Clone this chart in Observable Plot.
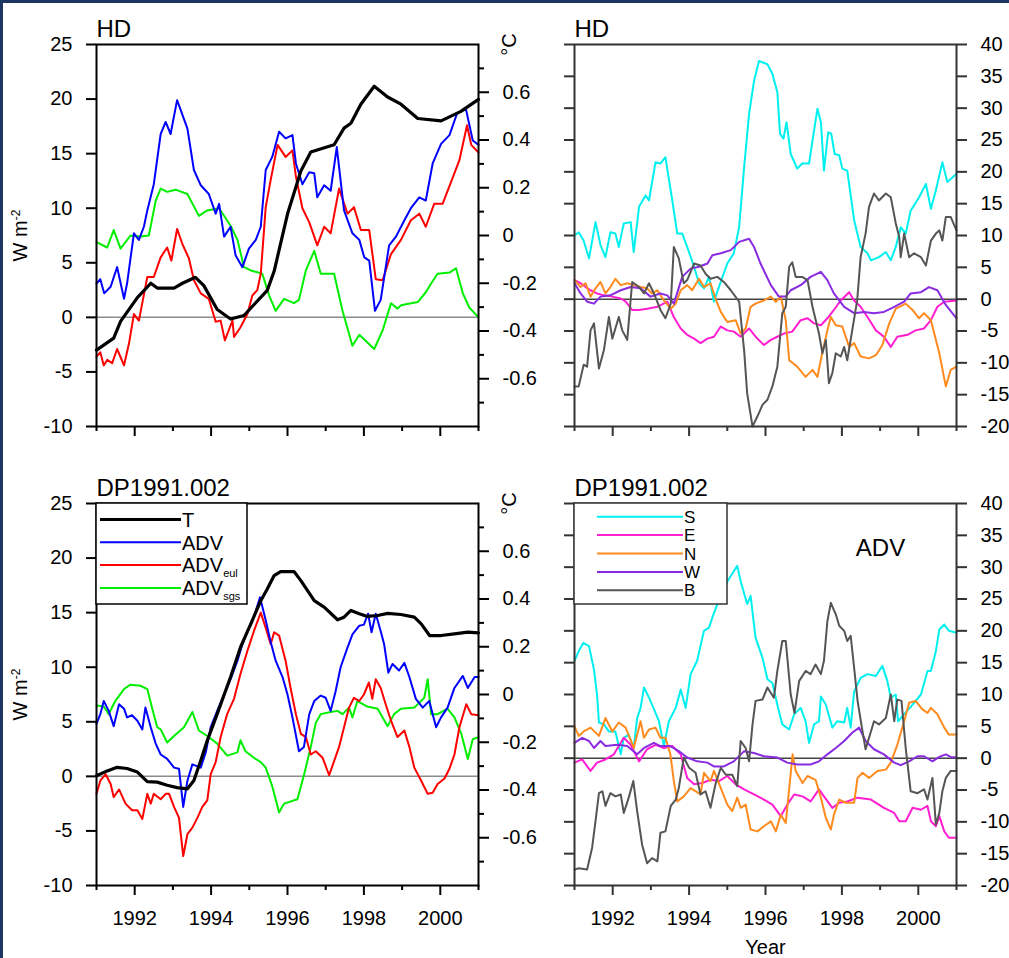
<!DOCTYPE html>
<html><head><meta charset="utf-8">
<script src="https://cdn.jsdelivr.net/npm/d3@7"></script>
<script src="https://cdn.jsdelivr.net/npm/@observablehq/plot@0.6"></script>
<style>
html,body{margin:0;padding:0;background:#1c3664;}
#page{position:relative;width:1009px;height:958px;overflow:hidden;}
#white{position:absolute;left:3px;top:3px;right:0;bottom:0;background:#fff;}
.panel{position:absolute;}
.panel svg{overflow:visible;}
</style></head><body>
<div id="page"><div id="white"></div></div>
<script>
// ---------- tick values ----------
const yearTicks = [1992, 1994, 1996, 1998, 2000];
const yearMinor = [1991, 1993, 1995, 1997, 1999, 2001];
const wTicks = [-10, -5, 0, 5, 10, 15, 20, 25];
const cTicks = [-0.6, -0.4, -0.2, 0, 0.2, 0.4, 0.6];
const cMinor = [-0.7, -0.5, -0.3, -0.1, 0.1, 0.3, 0.5, 0.7];
const rTicks = [-20, -15, -10, -5, 0, 5, 10, 15, 20, 25, 30, 35, 40];
const titles = ["HD", "DP1991.002"];

// ---------- HD : heat budget (W m-2) and T (°C) ----------
const hdT = [[1991.0,-0.48],[1991.45,-0.43],[1991.63,-0.36],[1992.07,-0.26],[1992.42,-0.2],[1992.59,-0.22],[1993.03,-0.22],[1993.25,-0.2],[1993.59,-0.175],[1993.81,-0.21],[1994.16,-0.31],[1994.51,-0.35],[1994.86,-0.335],[1995.12,-0.29],[1995.47,-0.23],[1995.65,-0.15],[1996.0,0.09],[1996.35,0.27],[1996.61,0.35],[1997.22,0.38],[1997.48,0.45],[1997.66,0.47],[1997.92,0.55],[1998.27,0.625],[1998.62,0.58],[1998.97,0.55],[1999.41,0.49],[2000.02,0.48],[2000.28,0.5],[2000.54,0.52],[2001.0,0.57]];
const hdADV = [[1991.0,3.1],[1991.1,3.5],[1991.2,2.2],[1991.37,2.8],[1991.54,4.6],[1991.72,1.7],[1991.8,3.1],[1991.98,7.7],[1992.11,7.1],[1992.24,8.3],[1992.33,9.8],[1992.5,12.2],[1992.68,16.8],[1992.81,17.9],[1992.94,16.8],[1993.11,19.9],[1993.38,17.3],[1993.55,13.5],[1993.73,12.1],[1993.94,11.3],[1994.12,9.5],[1994.21,10.4],[1994.34,7.4],[1994.51,8.3],[1994.64,5.7],[1994.82,4.6],[1994.99,6.3],[1995.17,7.1],[1995.3,8.3],[1995.43,13.5],[1995.6,14.7],[1995.78,17.0],[1995.95,16.4],[1996.13,16.7],[1996.22,14.1],[1996.39,12.2],[1996.57,13.3],[1996.7,13.2],[1996.78,11.0],[1996.96,12.1],[1997.13,11.6],[1997.29,15.6],[1997.48,9.8],[1997.7,7.7],[1997.88,7.1],[1998.01,5.5],[1998.14,5.2],[1998.29,0.6],[1998.44,1.6],[1998.66,6.6],[1998.84,7.4],[1999.06,8.9],[1999.23,10.0],[1999.45,11.0],[1999.62,10.7],[1999.8,14.1],[2000.02,15.9],[2000.24,16.7],[2000.44,18.7],[2000.67,19.1],[2000.85,16.2],[2001.0,15.8]];
const hdEUL = [[1991.0,-3.6],[1991.1,-3.2],[1991.19,-4.4],[1991.28,-3.9],[1991.41,-4.2],[1991.54,-2.9],[1991.72,-4.4],[1991.85,-2.4],[1991.98,0.3],[1992.11,-0.3],[1992.33,3.7],[1992.5,3.7],[1992.68,5.5],[1992.85,6.4],[1992.96,5.2],[1993.11,8.1],[1993.25,6.7],[1993.42,5.4],[1993.55,3.4],[1993.73,2.2],[1993.94,1.7],[1994.12,-0.4],[1994.25,-0.3],[1994.36,-2.1],[1994.56,-0.3],[1994.6,-1.8],[1994.77,-0.9],[1994.95,0.3],[1995.08,2.0],[1995.21,2.5],[1995.3,4.0],[1995.43,10.1],[1995.56,12.6],[1995.74,15.8],[1995.95,14.7],[1996.13,15.3],[1996.22,12.9],[1996.39,10.0],[1996.57,8.7],[1996.78,6.6],[1996.96,8.3],[1997.13,7.7],[1997.35,11.8],[1997.57,9.5],[1997.74,10.1],[1997.92,8.0],[1998.14,8.0],[1998.31,3.5],[1998.49,3.4],[1998.71,5.8],[1998.97,7.1],[1999.23,8.9],[1999.45,9.5],[1999.62,8.3],[1999.84,10.4],[2000.06,10.4],[2000.28,12.4],[2000.5,14.4],[2000.7,17.6],[2000.81,15.8],[2001.0,15.1]];
const hdSGS = [[1991.0,6.9],[1991.28,6.4],[1991.45,8.0],[1991.63,6.3],[1991.89,7.5],[1992.15,7.4],[1992.37,7.5],[1992.55,10.7],[1992.68,11.8],[1992.85,11.5],[1993.07,11.7],[1993.38,11.3],[1993.68,9.3],[1993.9,9.8],[1994.21,10.0],[1994.51,8.4],[1994.69,7.1],[1994.86,4.6],[1995.04,4.3],[1995.34,4.0],[1995.52,2.0],[1995.69,0.6],[1995.91,1.7],[1996.17,1.3],[1996.3,1.6],[1996.48,4.3],[1996.7,6.1],[1996.87,4.0],[1997.22,4.0],[1997.44,0.6],[1997.7,-2.6],[1997.88,-1.6],[1998.27,-2.9],[1998.49,-1.2],[1998.71,1.3],[1998.88,0.8],[1998.97,1.1],[1999.41,1.4],[1999.62,2.3],[1999.76,3.1],[1999.93,4.0],[2000.24,4.1],[2000.41,4.5],[2000.59,2.2],[2000.76,0.9],[2001.0,0.0]];
// ---------- HD : ADV components ----------
const hdS = [[1991.0,10.0],[1991.11,10.5],[1991.24,9.2],[1991.38,6.4],[1991.55,12.1],[1991.68,8.5],[1991.81,6.6],[1991.94,10.5],[1992.07,10.3],[1992.16,8.2],[1992.29,11.9],[1992.47,12.1],[1992.55,7.4],[1992.69,14.5],[1992.86,16.3],[1992.95,15.5],[1993.12,21.5],[1993.25,21.3],[1993.38,22.3],[1993.56,15.5],[1993.69,10.3],[1993.82,10.3],[1993.95,8.2],[1994.13,5.1],[1994.26,2.5],[1994.39,1.7],[1994.52,3.5],[1994.65,-0.4],[1994.78,1.9],[1995.0,5.6],[1995.17,7.2],[1995.31,11.3],[1995.44,20.7],[1995.57,29.1],[1995.7,34.3],[1995.83,37.4],[1996.05,36.9],[1996.18,35.4],[1996.31,32.5],[1996.38,26.0],[1996.47,25.2],[1996.55,27.8],[1996.66,22.8],[1996.83,20.5],[1996.96,21.3],[1997.14,21.3],[1997.23,24.9],[1997.36,29.9],[1997.45,27.8],[1997.53,20.2],[1997.64,26.2],[1997.72,26.0],[1997.81,22.8],[1997.93,22.6],[1998.01,20.5],[1998.14,20.2],[1998.32,12.4],[1998.49,8.2],[1998.67,7.2],[1998.76,6.1],[1998.97,6.6],[1999.15,7.4],[1999.28,6.1],[1999.41,8.2],[1999.54,11.3],[1999.67,10.3],[1999.8,13.9],[2000.02,16.0],[2000.2,18.1],[2000.33,14.2],[2000.46,17.1],[2000.63,21.5],[2000.76,18.4],[2001.0,19.7]];
const hdE = [[1991.0,3.0],[1991.16,2.5],[1991.29,1.9],[1991.42,1.4],[1991.59,0.9],[1991.77,0.6],[1991.99,0.4],[1992.21,0.1],[1992.34,-0.4],[1992.51,-1.7],[1992.69,-1.7],[1992.9,-1.5],[1993.17,-1.2],[1993.43,-0.4],[1993.6,-2.8],[1993.78,-4.6],[1993.95,-5.6],[1994.13,-6.2],[1994.3,-6.9],[1994.48,-6.2],[1994.65,-5.9],[1994.83,-4.3],[1995.0,-4.9],[1995.17,-5.1],[1995.35,-5.9],[1995.57,-4.6],[1995.74,-5.9],[1995.96,-7.2],[1996.14,-6.4],[1996.31,-5.9],[1996.48,-5.4],[1996.7,-5.1],[1996.92,-3.3],[1997.1,-3.0],[1997.27,-3.8],[1997.45,-4.1],[1997.62,-3.0],[1997.79,-1.7],[1997.97,-0.2],[1998.19,1.1],[1998.32,-0.2],[1998.49,-1.2],[1998.67,-2.8],[1998.89,-4.9],[1999.1,-5.9],[1999.28,-7.5],[1999.45,-5.9],[1999.72,-5.6],[1999.93,-4.9],[2000.15,-4.6],[2000.33,-3.3],[2000.5,-1.2],[2000.68,-0.4],[2001.0,-0.2]];
const hdN = [[1991.0,3.0],[1991.16,1.9],[1991.29,2.5],[1991.42,0.4],[1991.55,1.7],[1991.68,2.7],[1991.81,0.9],[1991.94,1.9],[1992.07,3.2],[1992.21,2.2],[1992.38,2.5],[1992.55,2.2],[1992.73,1.9],[1992.9,1.7],[1993.03,0.9],[1993.17,1.4],[1993.34,-0.2],[1993.52,-1.5],[1993.65,-0.7],[1993.78,1.4],[1993.95,2.2],[1994.08,1.4],[1994.26,3.2],[1994.39,1.9],[1994.56,2.5],[1994.69,0.1],[1994.83,-2.0],[1995.0,-3.6],[1995.22,-3.3],[1995.35,-5.4],[1995.48,-4.6],[1995.61,-1.2],[1995.74,-0.7],[1995.96,-0.2],[1996.14,0.4],[1996.27,-0.4],[1996.4,0.4],[1996.53,-3.3],[1996.62,-9.6],[1996.83,-10.6],[1997.05,-12.2],[1997.23,-11.1],[1997.36,-12.2],[1997.49,-8.3],[1997.62,-4.9],[1997.71,-2.8],[1997.84,-4.1],[1998.01,-4.3],[1998.19,-7.5],[1998.32,-6.9],[1998.49,-9.0],[1998.71,-9.3],[1998.89,-8.8],[1999.06,-7.2],[1999.24,-3.8],[1999.41,-1.5],[1999.67,-0.7],[1999.85,-1.7],[2000.02,-3.0],[2000.15,-2.2],[2000.33,-3.3],[2000.55,-8.5],[2000.72,-13.7],[2000.85,-11.1],[2001.0,-10.6]];
const hdW = [[1991.0,2.5],[1991.16,0.9],[1991.33,-0.4],[1991.51,-0.7],[1991.68,0.4],[1991.94,0.6],[1992.21,1.4],[1992.47,1.9],[1992.73,1.7],[1992.99,0.4],[1993.25,0.9],[1993.43,0.6],[1993.6,-0.7],[1993.82,3.5],[1994.04,4.8],[1994.26,5.1],[1994.48,5.6],[1994.61,6.9],[1994.83,7.2],[1995.09,7.7],[1995.31,9.0],[1995.57,9.5],[1995.7,8.2],[1995.87,5.6],[1996.14,2.2],[1996.35,0.4],[1996.53,0.4],[1996.66,1.4],[1996.92,2.2],[1997.18,3.5],[1997.45,4.3],[1997.62,3.0],[1997.79,0.9],[1998.06,-1.2],[1998.32,-2.2],[1998.58,-2.0],[1998.84,-2.2],[1999.1,-2.0],[1999.37,-1.2],[1999.63,-0.4],[1999.8,0.9],[2000.07,1.1],[2000.28,1.9],[2000.5,1.4],[2000.72,-0.9],[2001.0,-3.0]];
const hdB = [[1991.0,-13.7],[1991.11,-13.7],[1991.24,-10.3],[1991.33,-10.6],[1991.42,-4.9],[1991.51,-3.8],[1991.64,-10.9],[1991.77,-8.0],[1991.9,-2.8],[1991.99,-6.2],[1992.16,-2.8],[1992.25,-4.9],[1992.38,-6.4],[1992.51,2.7],[1992.69,1.9],[1992.82,0.9],[1992.95,2.5],[1993.08,0.9],[1993.25,-1.7],[1993.38,-3.0],[1993.52,-0.7],[1993.6,8.2],[1993.73,6.4],[1993.86,2.5],[1993.95,3.0],[1994.13,5.6],[1994.3,5.3],[1994.43,4.0],[1994.56,3.2],[1994.74,3.5],[1994.91,2.7],[1995.09,1.4],[1995.31,-0.4],[1995.44,-8.0],[1995.52,-14.8],[1995.66,-20.0],[1995.79,-18.4],[1995.92,-16.6],[1996.05,-15.8],[1996.18,-13.7],[1996.31,-10.6],[1996.44,-2.2],[1996.53,-1.2],[1996.62,5.1],[1996.7,5.8],[1996.79,3.5],[1996.96,3.5],[1997.1,3.0],[1997.23,-1.2],[1997.4,-5.4],[1997.49,-8.5],[1997.58,-6.4],[1997.66,-13.2],[1997.75,-11.6],[1997.84,-8.5],[1997.97,-9.0],[1998.06,-7.5],[1998.14,-9.6],[1998.27,-4.9],[1998.4,-0.2],[1998.49,6.6],[1998.62,10.3],[1998.71,14.5],[1998.84,16.6],[1998.97,15.5],[1999.15,16.6],[1999.28,16.0],[1999.41,11.9],[1999.5,9.8],[1999.54,6.6],[1999.63,10.3],[1999.76,6.6],[1999.89,7.2],[2000.07,6.6],[2000.2,5.3],[2000.33,9.2],[2000.46,10.3],[2000.55,10.8],[2000.63,9.2],[2000.72,12.9],[2000.85,12.9],[2001.0,10.8]];

// ---------- DP1991.002 : heat budget (W m-2) and T (°C) ----------
const dpT = [[1991.0,-0.34],[1991.28,-0.32],[1991.54,-0.305],[1991.8,-0.31],[1992.07,-0.325],[1992.33,-0.365],[1992.59,-0.367],[1992.85,-0.38],[1993.11,-0.39],[1993.38,-0.395],[1993.55,-0.36],[1993.73,-0.276],[1993.9,-0.193],[1994.16,-0.081],[1994.51,0.073],[1994.77,0.198],[1995.04,0.296],[1995.3,0.393],[1995.47,0.442],[1995.65,0.498],[1995.82,0.515],[1996.17,0.515],[1996.35,0.477],[1996.7,0.393],[1996.96,0.366],[1997.31,0.313],[1997.48,0.324],[1997.66,0.352],[1997.88,0.338],[1998.09,0.327],[1998.36,0.331],[1998.62,0.34],[1998.97,0.335],[1999.32,0.324],[1999.5,0.296],[1999.72,0.247],[2000.02,0.247],[2000.37,0.254],[2000.72,0.261],[2001.0,0.258]];
const dpADV = [[1991.0,4.8],[1991.1,5.7],[1991.19,6.9],[1991.32,6.0],[1991.45,4.6],[1991.59,6.6],[1991.72,6.2],[1991.8,5.4],[1991.93,5.6],[1992.07,5.1],[1992.2,4.3],[1992.28,6.3],[1992.42,4.5],[1992.55,3.0],[1992.68,2.0],[1992.85,1.6],[1993.03,0.8],[1993.16,0.7],[1993.27,-2.8],[1993.38,-0.4],[1993.51,1.1],[1993.73,0.8],[1993.86,2.2],[1993.99,4.5],[1994.16,6.0],[1994.34,7.5],[1994.51,8.9],[1994.69,10.6],[1994.82,12.1],[1994.95,13.3],[1995.12,14.6],[1995.28,16.4],[1995.43,14.3],[1995.56,12.3],[1995.69,10.6],[1995.87,9.1],[1996.0,7.5],[1996.13,5.4],[1996.3,2.3],[1996.43,2.7],[1996.57,5.7],[1996.7,6.9],[1996.87,7.4],[1997.0,7.2],[1997.13,6.0],[1997.26,7.8],[1997.39,10.0],[1997.57,11.8],[1997.7,13.0],[1997.88,13.8],[1998.0,13.9],[1998.11,14.9],[1998.2,13.2],[1998.31,14.9],[1998.44,13.3],[1998.53,12.1],[1998.64,9.5],[1998.75,10.3],[1998.92,9.7],[1999.06,10.4],[1999.19,9.1],[1999.36,7.1],[1999.54,6.3],[1999.71,6.9],[1999.89,4.5],[2000.02,5.4],[2000.19,6.3],[2000.37,8.1],[2000.59,9.2],[2000.72,8.1],[2000.9,9.1],[2001.0,9.1]];
const dpEUL = [[1991.0,-1.6],[1991.1,-0.4],[1991.24,0.2],[1991.37,-0.7],[1991.45,-1.9],[1991.59,-1.2],[1991.76,-2.5],[1991.93,-3.1],[1992.07,-3.1],[1992.2,-3.9],[1992.33,-1.6],[1992.42,-2.5],[1992.5,-1.6],[1992.68,-2.1],[1992.81,-1.6],[1992.9,-1.6],[1993.03,-2.8],[1993.16,-3.8],[1993.27,-7.3],[1993.38,-5.3],[1993.51,-4.7],[1993.64,-3.8],[1993.77,-2.8],[1993.9,-2.2],[1993.99,0.2],[1994.12,1.3],[1994.25,3.6],[1994.42,5.7],[1994.6,7.1],[1994.77,9.4],[1994.95,11.5],[1995.12,13.3],[1995.3,15.0],[1995.43,13.6],[1995.56,12.1],[1995.65,13.2],[1995.78,12.9],[1995.95,10.6],[1996.08,8.1],[1996.22,5.7],[1996.35,3.9],[1996.48,3.6],[1996.61,2.0],[1996.74,2.3],[1996.92,1.7],[1997.09,0.1],[1997.22,1.4],[1997.35,2.7],[1997.48,4.5],[1997.61,6.3],[1997.74,7.2],[1997.88,6.9],[1998.0,7.5],[1998.13,8.6],[1998.22,7.1],[1998.31,8.9],[1998.44,8.1],[1998.57,6.6],[1998.71,5.1],[1998.88,3.6],[1999.06,4.2],[1999.19,2.7],[1999.32,0.8],[1999.5,-0.4],[1999.67,-1.6],[1999.8,-1.5],[1999.93,-0.7],[2000.11,-0.2],[2000.24,0.7],[2000.37,2.0],[2000.5,4.5],[2000.68,6.6],[2000.81,5.7],[2001.0,5.6]];
const dpSGS = [[1991.0,6.5],[1991.19,6.4],[1991.32,5.7],[1991.49,6.9],[1991.72,8.0],[1991.89,8.4],[1992.15,8.3],[1992.33,8.0],[1992.46,6.2],[1992.59,4.5],[1992.68,4.3],[1992.85,3.1],[1993.03,3.7],[1993.29,4.5],[1993.51,5.9],[1993.68,4.2],[1993.9,3.7],[1994.16,3.0],[1994.42,1.9],[1994.69,2.2],[1994.77,3.3],[1994.9,2.3],[1995.12,1.7],[1995.3,1.3],[1995.43,0.8],[1995.6,-0.9],[1995.78,-3.3],[1995.91,-2.5],[1996.26,-2.1],[1996.43,0.1],[1996.61,2.7],[1996.74,4.9],[1996.87,5.7],[1997.13,5.9],[1997.31,6.0],[1997.44,5.7],[1997.61,6.3],[1997.7,5.4],[1997.83,6.9],[1998.09,6.4],[1998.36,6.2],[1998.62,4.6],[1998.79,5.7],[1998.97,6.2],[1999.32,6.3],[1999.58,7.2],[1999.67,8.9],[1999.76,5.7],[1999.93,5.7],[2000.19,6.2],[2000.37,5.4],[2000.55,3.9],[2000.72,1.6],[2000.85,3.4],[2001.0,3.6]];
// ---------- DP1991.002 : ADV components ----------
const dpS = [[1991.0,15.3],[1991.11,16.8],[1991.23,18.1],[1991.38,17.6],[1991.51,13.9],[1991.59,10.0],[1991.64,5.6],[1991.77,5.3],[1991.9,4.2],[1992.07,4.2],[1992.21,0.6],[1992.29,3.2],[1992.42,3.7],[1992.55,1.6],[1992.64,6.3],[1992.73,7.9],[1992.82,11.1],[1992.95,9.5],[1993.08,7.7],[1993.21,5.8],[1993.34,1.9],[1993.47,5.8],[1993.65,7.9],[1993.78,10.8],[1993.91,7.9],[1994.04,13.2],[1994.21,15.3],[1994.39,20.0],[1994.52,20.5],[1994.61,22.1],[1994.74,24.2],[1994.91,26.8],[1995.09,28.6],[1995.26,30.2],[1995.35,27.8],[1995.52,24.2],[1995.61,25.5],[1995.74,18.9],[1995.92,15.8],[1996.05,12.4],[1996.18,11.8],[1996.31,8.4],[1996.44,5.3],[1996.62,4.5],[1996.75,6.9],[1996.92,7.9],[1997.05,5.8],[1997.14,2.4],[1997.27,5.3],[1997.4,5.8],[1997.45,9.7],[1997.58,8.4],[1997.75,4.8],[1997.88,5.8],[1998.06,5.6],[1998.14,7.9],[1998.23,4.8],[1998.32,10.5],[1998.49,12.6],[1998.67,13.2],[1998.89,12.9],[1999.06,14.5],[1999.19,12.1],[1999.28,9.5],[1999.41,10.0],[1999.47,5.8],[1999.63,6.9],[1999.85,8.4],[2000.07,10.0],[2000.24,13.7],[2000.33,13.7],[2000.46,16.8],[2000.55,20.2],[2000.68,21.0],[2000.8,20.0],[2001.0,19.7]];
const dpE = [[1991.0,-0.7],[1991.2,-0.2],[1991.42,-2.0],[1991.59,-0.7],[1991.81,-0.2],[1992.03,0.6],[1992.29,3.2],[1992.47,2.1],[1992.69,-0.5],[1992.9,1.4],[1993.12,2.1],[1993.34,1.6],[1993.56,1.9],[1993.78,0.6],[1993.95,-3.1],[1994.13,-4.1],[1994.34,-3.9],[1994.56,-3.4],[1994.78,-3.6],[1995.0,-2.8],[1995.22,-4.1],[1995.44,-4.9],[1995.7,-5.7],[1995.96,-6.5],[1996.18,-7.3],[1996.4,-9.1],[1996.57,-7.3],[1996.75,-5.7],[1996.97,-6.0],[1997.18,-6.8],[1997.4,-4.9],[1997.53,-6.0],[1997.75,-7.8],[1997.93,-7.0],[1998.14,-6.8],[1998.41,-6.2],[1998.76,-6.5],[1999.1,-7.8],[1999.37,-8.6],[1999.5,-9.9],[1999.67,-9.9],[1999.85,-7.8],[2000.07,-8.1],[2000.24,-7.5],[2000.33,-9.9],[2000.46,-10.7],[2000.55,-9.1],[2000.68,-11.5],[2000.8,-12.5],[2001.0,-12.5]];
const dpN = [[1991.0,5.0],[1991.11,3.5],[1991.24,4.2],[1991.42,4.8],[1991.64,3.5],[1991.81,6.3],[1991.99,4.2],[1992.16,5.6],[1992.34,4.8],[1992.55,1.6],[1992.73,5.8],[1992.82,3.2],[1992.95,4.5],[1993.12,4.8],[1993.25,3.2],[1993.38,3.2],[1993.51,0.6],[1993.6,-3.6],[1993.69,-6.8],[1993.86,-6.0],[1994.04,-4.7],[1994.3,-5.7],[1994.39,-2.3],[1994.56,-3.6],[1994.65,-2.0],[1994.83,-4.7],[1995.0,-7.3],[1995.13,-8.3],[1995.26,-6.2],[1995.35,-7.8],[1995.48,-7.3],[1995.61,-11.2],[1995.79,-11.5],[1995.96,-10.7],[1996.14,-9.9],[1996.27,-11.5],[1996.4,-8.9],[1996.53,-10.2],[1996.71,0.6],[1996.79,-2.0],[1996.97,-3.9],[1997.1,-2.8],[1997.31,-3.4],[1997.45,-6.2],[1997.58,-9.4],[1997.71,-11.2],[1997.79,-8.9],[1997.93,-6.5],[1998.1,-7.0],[1998.32,-7.0],[1998.41,-3.1],[1998.54,-2.3],[1998.71,-3.1],[1998.93,-2.0],[1999.15,-1.8],[1999.28,-0.7],[1999.45,2.1],[1999.63,5.8],[1999.76,8.7],[1999.93,9.0],[2000.1,7.7],[2000.24,7.1],[2000.33,7.9],[2000.5,6.9],[2000.68,4.8],[2000.8,3.7],[2001.0,3.7]];
const dpW = [[1991.0,2.4],[1991.2,3.2],[1991.38,2.7],[1991.51,1.6],[1991.68,2.7],[1991.81,1.9],[1992.12,2.1],[1992.38,1.9],[1992.64,0.6],[1992.82,1.6],[1993.08,2.4],[1993.25,1.9],[1993.51,1.9],[1993.73,1.1],[1993.95,0.1],[1994.21,-0.5],[1994.48,-0.7],[1994.65,-1.3],[1994.91,-1.3],[1995.17,-0.5],[1995.44,1.1],[1995.7,0.8],[1995.96,0.3],[1996.31,0.1],[1996.57,-0.7],[1996.83,-1.0],[1997.18,-1.0],[1997.4,-0.5],[1997.62,0.6],[1997.84,1.6],[1998.06,2.7],[1998.27,4.0],[1998.45,4.8],[1998.62,2.7],[1998.84,1.4],[1999.1,0.6],[1999.37,-0.7],[1999.54,-1.1],[1999.76,-0.5],[1999.98,0.3],[2000.15,0.3],[2000.37,-0.5],[2000.55,0.2],[2000.72,0.6],[2000.85,0.2],[2001.0,0.1]];
const dpB = [[1991.0,-17.5],[1991.11,-17.3],[1991.33,-17.5],[1991.46,-14.1],[1991.55,-9.9],[1991.64,-5.5],[1991.73,-5.2],[1991.81,-7.5],[1991.94,-5.5],[1992.07,-6.0],[1992.21,-5.7],[1992.29,-8.6],[1992.42,-6.2],[1992.54,-3.6],[1992.64,-8.3],[1992.77,-13.6],[1992.9,-16.5],[1993.03,-15.7],[1993.17,-16.2],[1993.25,-11.7],[1993.38,-11.5],[1993.52,-7.5],[1993.65,-6.5],[1993.73,-4.7],[1993.86,0.1],[1994.0,-1.5],[1994.17,-2.3],[1994.3,-5.7],[1994.43,-5.2],[1994.56,-7.8],[1994.69,-4.1],[1994.83,-1.5],[1994.96,-2.6],[1995.13,-2.6],[1995.26,-4.4],[1995.35,2.7],[1995.48,1.6],[1995.57,-0.5],[1995.66,5.3],[1995.74,9.0],[1995.92,9.2],[1996.05,11.1],[1996.22,9.5],[1996.31,13.7],[1996.44,18.4],[1996.53,18.4],[1996.66,10.0],[1996.76,7.1],[1996.88,12.1],[1997.05,13.7],[1997.18,13.2],[1997.31,14.7],[1997.45,13.2],[1997.53,15.3],[1997.62,21.5],[1997.71,24.4],[1997.84,22.6],[1997.93,20.8],[1998.06,20.0],[1998.14,18.4],[1998.23,19.2],[1998.32,14.2],[1998.41,9.0],[1998.54,4.2],[1998.62,1.4],[1998.76,4.2],[1998.84,5.8],[1998.97,5.3],[1999.15,6.3],[1999.28,10.0],[1999.37,5.8],[1999.45,9.2],[1999.56,9.0],[1999.67,1.6],[1999.8,-5.2],[1999.98,-5.5],[2000.15,-4.9],[2000.24,-6.5],[2000.37,-3.1],[2000.46,-10.4],[2000.55,-8.6],[2000.63,-5.2],[2000.72,-3.1],[2000.85,-2.0],[2001.0,-2.0]];

// ---------- styling ----------
const FONT = "'Liberation Sans', Arial, Helvetica, sans-serif";
const COL = {T:"#000000", ADV:"#0000ff", EUL:"#ff0000", SGS:"#00ee00",
             S:"#00f0f0", E:"#ff1ed2", N:"#ff8a1e", W:"#8a2be2", B:"#555555"};
const cToW = c => 7.5 + c * 21.875;   // °C (-0.8..0.8) onto W m-2 (-10..25)
const X = d => d[0], Y = d => d[1];
const fmt = d => String(d);
const page = document.getElementById("page");

function place(svg, left, top) {
  const div = document.createElement("div");
  div.className = "panel";
  div.style.left = left + "px"; div.style.top = top + "px";
  div.appendChild(svg); page.appendChild(div);
  return svg;
}

function xAxes(bottom, stroke) {
  return [
    Plot.axisX(yearTicks, {anchor:"bottom", tickSize:10, tickPadding:15, strokeWidth:2, stroke,
      tickFormat: bottom ? fmt : (() => ""), fontSize:20, label:null}),
    Plot.axisX(yearMinor, {anchor:"bottom", tickSize:5, strokeWidth:2, stroke, tickFormat:() => "", label:null})
  ];
}

function leftPanel(title, T, adv, eul, sgs, bottom, legend) {
  const H = bottom ? 498 : 460;
  const svg = Plot.plot({
    width: 560, height: H,
    marginLeft: 96, marginRight: 82, marginTop: bottom ? 43 : 44, marginBottom: bottom ? 73 : 34,
    x: {domain: [1991, 2001]}, y: {domain: [-10, 25]},
    style: {fontFamily: FONT, fontSize: "20px", color: "black", background: "transparent"},
    marks: [
      Plot.ruleY([0], {stroke: "#8c8c8c", strokeWidth: 1.5}),
      Plot.line(sgs, {x: X, y: Y, stroke: COL.SGS, strokeWidth: 2}),
      Plot.line(eul, {x: X, y: Y, stroke: COL.EUL, strokeWidth: 2}),
      Plot.line(adv, {x: X, y: Y, stroke: COL.ADV, strokeWidth: 2}),
      Plot.line(T, {x: X, y: d => cToW(d[1]), stroke: COL.T, strokeWidth: 3.2}),
      Plot.frame({stroke: "black", strokeWidth: 2}),
      Plot.axisY(wTicks, {anchor: "left", tickSize: 10, tickPadding: 14, strokeWidth: 2, fontSize: 20, label: null, tickFormat: fmt}),
      Plot.axisY(cTicks.map(cToW), {anchor: "right", tickSize: 10, tickPadding: 14, strokeWidth: 2, fontSize: 20, label: null,
        tickFormat: (d, i) => String(cTicks[i])}),
      Plot.axisY(cMinor.map(cToW), {anchor: "right", tickSize: 5, strokeWidth: 2, tickFormat: () => "", label: null}),
      ...xAxes(bottom, "black"),
      Plot.text([title], {frameAnchor: "top-left", dy: -8, textAnchor: "start", lineAnchor: "bottom", fontSize: 24, fill: "black"}),
      Plot.text(["°C"], {frameAnchor: "top-right", dx: 31, rotate: -90, textAnchor: "middle", lineAnchor: "middle", fontSize: 20, fill: "black"}),
      Plot.text(["W m"], {frameAnchor: "left", dx: -76, rotate: -90, textAnchor: "middle", lineAnchor: "middle", fontSize: 20, fill: "black"})
    ]
  });
  d3.select(svg).selectAll("text").filter(function(){ return this.textContent === "W m"; })
    .append("tspan").attr("dy", "-0.55em").attr("font-size", 12).text("-2");
  if (legend) {
    const g = d3.select(svg).append("g").attr("font-family", FONT).attr("text-anchor", "start");
    g.append("rect").attr("x", 96).attr("y", 43).attr("width", 151).attr("height", 101)
      .attr("fill", "white").attr("stroke", "black").attr("stroke-width", 1.5);
    const items = [
      {l: "T", s: null, c: COL.T, w: 3.2},
      {l: "ADV", s: null, c: COL.ADV, w: 2},
      {l: "ADV", s: "eul", c: COL.EUL, w: 2},
      {l: "ADV", s: "sgs", c: COL.SGS, w: 2}
    ];
    items.forEach((it, i) => {
      const y = 59.5 + i * 22.8;
      g.append("line").attr("x1", 100).attr("x2", 181).attr("y1", y).attr("y2", y)
        .attr("stroke", it.c).attr("stroke-width", it.w);
      const t = g.append("text").attr("x", 182).attr("y", y).attr("dy", "0.36em")
        .attr("text-anchor", "start").attr("font-size", 20).attr("fill", "black").text(it.l);
      if (it.s) t.append("tspan").attr("dy", "0.45em").attr("font-size", 11).text(it.s);
    });
  }
  return svg;
}

function rightPanel(title, S, E, N, W, B, bottom, legend) {
  const H = bottom ? 498 : 460;
  const ax = "#333333";
  const marks = [
    Plot.ruleY([0], {stroke: "#444", strokeWidth: 1.5}),
    Plot.line(S, {x: X, y: Y, stroke: COL.S, strokeWidth: 2}),
    Plot.line(E, {x: X, y: Y, stroke: COL.E, strokeWidth: 2}),
    Plot.line(N, {x: X, y: Y, stroke: COL.N, strokeWidth: 2}),
    Plot.line(W, {x: X, y: Y, stroke: COL.W, strokeWidth: 2}),
    Plot.line(B, {x: X, y: Y, stroke: COL.B, strokeWidth: 2}),
    Plot.frame({stroke: ax, strokeWidth: 2}),
    Plot.axisY(rTicks, {anchor: "right", tickSize: 10, tickPadding: 14, strokeWidth: 2, stroke: ax, fontSize: 20, label: null, tickFormat: fmt}),
    Plot.axisY(rTicks, {anchor: "left", tickSize: 10, strokeWidth: 2, stroke: ax, tickFormat: () => "", label: null}),
    ...xAxes(bottom, ax),
    Plot.text([title], {frameAnchor: "top-left", dy: -8, textAnchor: "start", lineAnchor: "bottom", fontSize: 24, fill: "black"})
  ];
  if (bottom) {
    marks.push(Plot.text(["ADV"], {frameAnchor: "top-right", dx: -76, dy: 45, textAnchor: "middle", lineAnchor: "middle", fontSize: 24, fill: "black"}));
    marks.push(Plot.text(["Year"], {frameAnchor: "bottom", dy: 68, textAnchor: "middle", lineAnchor: "bottom", fontSize: 20, fill: "black"}));
  }
  const svg = Plot.plot({
    width: 449, height: H,
    marginLeft: 14, marginRight: 53, marginTop: bottom ? 43 : 44, marginBottom: bottom ? 73 : 34,
    x: {domain: [1991, 2001]}, y: {domain: [-20, 40]},
    style: {fontFamily: FONT, fontSize: "20px", color: "black", background: "transparent"},
    marks
  });
  if (legend) {
    const g = d3.select(svg).append("g").attr("font-family", FONT).attr("text-anchor", "start");
    g.append("rect").attr("x", 14).attr("y", 43).attr("width", 153).attr("height", 101)
      .attr("fill", "white").attr("stroke", ax).attr("stroke-width", 1.5);
    const items = [["S", COL.S], ["E", COL.E], ["N", COL.N], ["W", COL.W], ["B", COL.B]];
    items.forEach(([l, c], i) => {
      const y = 56.7 + i * 18.4;
      g.append("line").attr("x1", 37).attr("x2", 123).attr("y1", y).attr("y2", y)
        .attr("stroke", c).attr("stroke-width", 2);
      g.append("text").attr("x", 124).attr("y", y).attr("dy", "0.36em")
        .attr("text-anchor", "start").attr("font-size", 17).attr("fill", "black").text(l);
    });
  }
  return svg;
}

place(leftPanel(titles[0], hdT, hdADV, hdEUL, hdSGS, false, false), 0, 0);
place(rightPanel(titles[0], hdS, hdE, hdN, hdW, hdB, false, false), 560, 0);
place(leftPanel(titles[1], dpT, dpADV, dpEUL, dpSGS, true, true), 0, 460);
place(rightPanel(titles[1], dpS, dpE, dpN, dpW, dpB, true, true), 560, 460);
</script></body></html>
